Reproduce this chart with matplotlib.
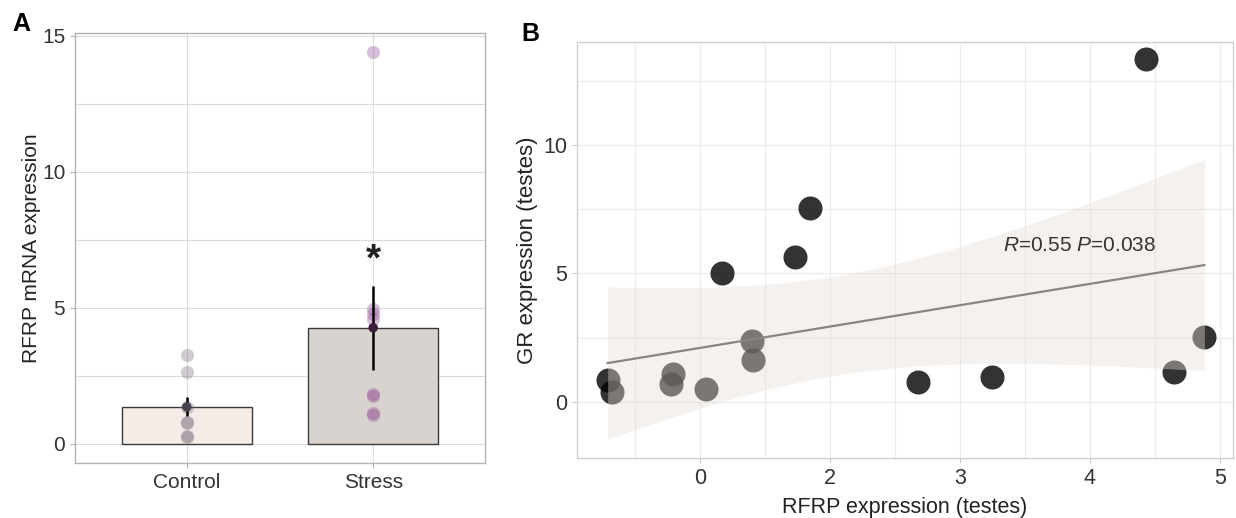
import numpy as np
import matplotlib.pyplot as plt

plt.rcParams['font.family'] = ['Liberation Sans', 'DejaVu Sans']
plt.rcParams['mathtext.fontset'] = 'custom'
plt.rcParams['mathtext.rm'] = 'Liberation Sans'
plt.rcParams['mathtext.it'] = 'Liberation Sans:italic'

# ---- panel A data ----
groups = ['Control', 'Stress']
bar_mean = [1.36, 4.27]
bar_se = [0.35, 1.54]
control_pts = [3.27, 2.66, 1.37, 0.80, 0.76, 0.31, 0.27]
stress_pts = [14.41, 4.95, 4.78, 4.60, 1.82, 1.75, 1.13, 1.07]

# ---- panel B data (x in axis positions, labelled below) ----
rfrp_x = [-0.71, -0.68, 0.166, 0.73, 0.845, -0.21, -0.22, 0.043, 0.397, 0.41,
          1.68, 2.25, 3.43, 3.65, 3.88]
gr_y = [0.85, 0.39, 5.03, 5.65, 7.53, 1.07, 0.68, 0.51, 2.38, 1.61,
        0.78, 0.96, 13.35, 1.17, 2.51]
x_tick_pos = [0, 1, 2, 3, 4]
x_tick_lab = ['0', '2', '3', '4', '5']
T_CRIT = 2.160  # t(0.975, df=13)

W, H = 1236, 518
fig = plt.figure(figsize=(W / 100, H / 100), dpi=100)

# ================= A =================
axA = fig.add_axes([75 / W, (H - 463.3) / H, 410 / W, 430.6 / H])
pos = np.arange(len(groups))
axA.bar(pos, bar_mean, width=0.7, color=['#f3ece7', '#d8d3ce'],
        edgecolor='#3a3a3a', linewidth=1.0, zorder=2)
axA.scatter(np.zeros(len(control_pts)), control_pts, s=90, color='#7d6f80',
            alpha=0.35, linewidths=0, zorder=3)
axA.scatter(np.ones(len(stress_pts)), stress_pts, s=90, color='#8e4a94',
            alpha=0.35, linewidths=0, zorder=3)
axA.errorbar(pos, bar_mean, yerr=bar_se, fmt='none', ecolor='black',
             elinewidth=1.8, capsize=0, zorder=4)
axA.scatter(pos, bar_mean, s=34, color=['#4a4250', '#3a1d3c'], zorder=5)
axA.text(1, 6.75, '*', ha='center', va='center', fontsize=28,
         fontweight='bold', color='#222222')

axA.set_xlim(-0.6, 1.6)
axA.set_ylim(-0.71, 15.11)
axA.set_xticks(pos)
axA.set_xticklabels(groups)
axA.set_yticks([0, 5, 10, 15])
axA.set_yticks([2.5, 7.5, 12.5], minor=True)
axA.grid(True, which='both', color='#dcdcdc', linewidth=0.8)
axA.set_axisbelow(True)
axA.set_ylabel('RFRP mRNA expression', fontsize=15, color='#222222', labelpad=1)
for sp in axA.spines.values():
    sp.set_color('#b3b3b3')
    sp.set_linewidth(1.0)
axA.tick_params(axis='both', which='major', labelsize=15, colors='#b3b3b3',
                labelcolor='#333333', length=3.5, width=0.8)
axA.tick_params(axis='both', which='minor', length=0)

# ================= B =================
axB = fig.add_axes([577 / W, (H - 458) / H, 656 / W, 416.3 / H])
xb = np.array(rfrp_x)
yb = np.array(gr_y)
axB.scatter(xb, yb, s=300, color='black', alpha=0.8, linewidths=0, zorder=3)

# linear fit with 95% confidence band
slope, icpt = np.polyfit(xb, yb, 1)
n = len(xb)
resid = yb - (slope * xb + icpt)
s_err = np.sqrt(np.sum(resid ** 2) / (n - 2))
sxx = np.sum((xb - xb.mean()) ** 2)
xs = np.linspace(xb.min(), xb.max(), 100)
fit = slope * xs + icpt
half = T_CRIT * s_err * np.sqrt(1 / n + (xs - xb.mean()) ** 2 / sxx)
axB.fill_between(xs, fit - half, fit + half, color='#e8ded7', alpha=0.4,
                 linewidth=0, zorder=4)
axB.plot(xs, fit, color='#8b8580', linewidth=1.6, zorder=5)
axB.text(2.33, 6.07, r'$\mathit{R}$=0.55 $\mathit{P}$=0.038', ha='left',
         va='center', fontsize=15, color='#333333', zorder=6)

axB.set_xlim(-0.946, 4.1)
axB.set_ylim(-2.19, 14.02)
axB.set_xticks(x_tick_pos)
axB.set_xticklabels(x_tick_lab)
axB.set_xticks([-0.5, 0.5, 1.5, 2.5, 3.5], minor=True)
axB.set_yticks([0, 5, 10])
axB.set_yticks([2.5, 7.5, 12.5], minor=True)
axB.grid(True, which='both', color='#ebebeb', linewidth=0.8)
axB.set_axisbelow(True)
axB.set_xlabel('RFRP expression (testes)', fontsize=15.5, color='#222222', labelpad=6)
axB.set_ylabel('GR expression (testes)', fontsize=16, color='#222222', labelpad=4)
for sp in axB.spines.values():
    sp.set_color('#d0d0d0')
    sp.set_linewidth(1.0)
axB.tick_params(axis='both', which='major', labelsize=15.5, colors='#c8c8c8',
                labelcolor='#333333', length=3.5, width=0.8)
axB.tick_params(axis='both', which='minor', length=0)

fig.text(12 / W, 1 - 24 / H, 'A', fontsize=18, fontweight='bold', va='center', ha='left')
fig.text(521 / W, 1 - 34 / H, 'B', fontsize=18, fontweight='bold', va='center', ha='left')

fig.savefig('out.png', dpi=100)
